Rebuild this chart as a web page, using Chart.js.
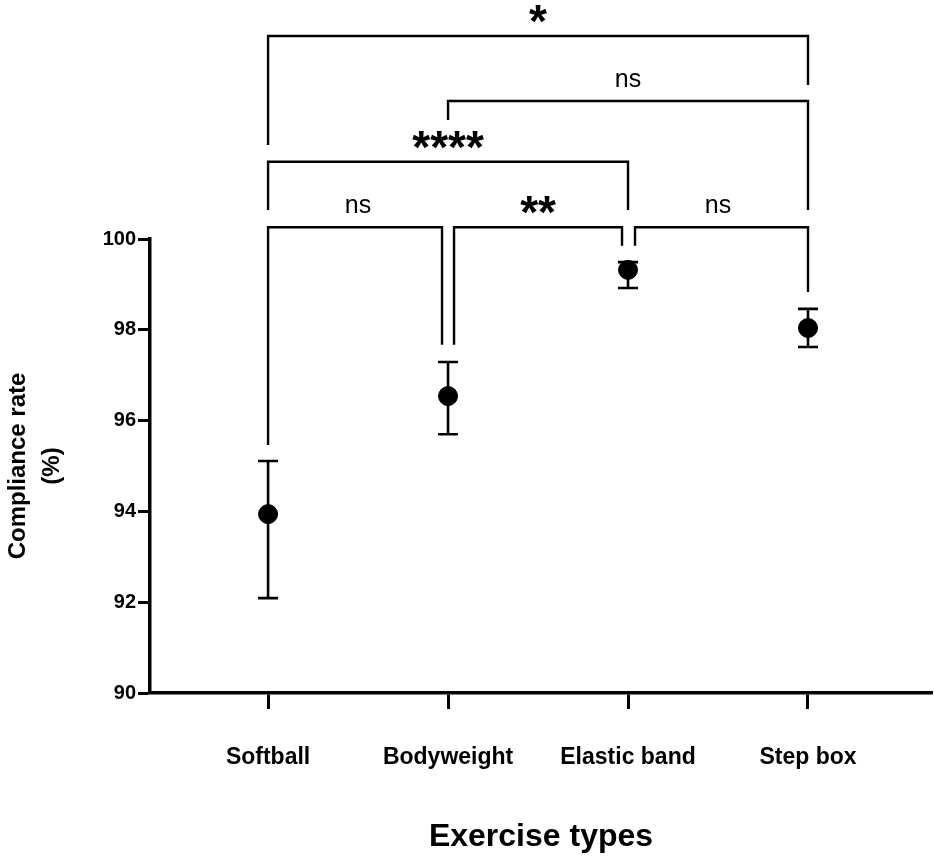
<!DOCTYPE html>
<html>
<head>
<meta charset="utf-8">
<title>Compliance rate by exercise type</title>
<script src="https://cdn.jsdelivr.net/npm/chart.js@4.4.1/dist/chart.umd.min.js"></script>
<style>
    html, body { margin: 0; padding: 0; background: #fff; }
    #grafica { display: block; }
</style>
</head>
<body>
<canvas id="grafica" width="935" height="860"></canvas>
<script>
// Data
const categories = ["Softball", "Bodyweight", "Elastic band", "Step box"];
const means = [93.94, 96.54, 99.32, 98.04];
const errHigh = [95.11, 97.29, 99.49, 98.46];
const errLow = [92.09, 95.70, 98.92, 97.62];
const yTicks = [90, 92, 94, 96, 98, 100];

// Multiple comparisons (category index pairs) and their labels
const sigPairs = [[0, 1], [1, 2], [2, 3], [0, 2], [1, 3], [0, 3]];
const sigLabels = ["ns", "**", "ns", "****", "ns", "*"];

// Bracket layout: [line level, left leg end, right leg end] in y units, then x shifts in px
const bracketLevels = [
    [100.26, 95.46, 97.67, 0, -6],
    [100.26, 97.67, 99.85, 6, -6],
    [100.26, 99.85, 98.83, 7, 0],
    [101.70, 100.64, 100.64, 0, 0],
    [103.04, 102.62, 100.64, 0, 0],
    [104.47, 102.07, 103.39, 0, 0],
];

const fontFam = "'Liberation Sans', Arial, Helvetica, sans-serif";

// error bars (mean +/- error), drawn under the dots
const errorBars = {
    id: "errorBars",
    beforeDatasetsDraw(chart) {
        const { ctx, scales: { x, y } } = chart;
        ctx.save();
        ctx.strokeStyle = "#000";
        ctx.lineWidth = 2.6;
        means.forEach((m, i) => {
            const px = x.getPixelForValue(i);
            const top = y.getPixelForValue(errHigh[i]);
            const bot = y.getPixelForValue(errLow[i]);
            ctx.beginPath();
            ctx.moveTo(px, top);
            ctx.lineTo(px, bot);
            ctx.moveTo(px - 10, top);
            ctx.lineTo(px + 10, top);
            ctx.moveTo(px - 10, bot);
            ctx.lineTo(px + 10, bot);
            ctx.stroke();
        });
        ctx.restore();
    }
};

// significance brackets above the points
const brackets = {
    id: "brackets",
    afterDraw(chart) {
        const { ctx, scales: { x, y } } = chart;
        ctx.save();
        ctx.strokeStyle = "#000";
        ctx.fillStyle = "#000";
        ctx.lineWidth = 2.4;
        ctx.lineJoin = "miter";
        ctx.textAlign = "center";
        ctx.textBaseline = "alphabetic";
        sigPairs.forEach(([a, b], k) => {
            const [lvl, endA, endB, dA, dB] = bracketLevels[k];
            const xa = x.getPixelForValue(a) + dA;
            const xb = x.getPixelForValue(b) + dB;
            const yl = y.getPixelForValue(lvl);
            ctx.beginPath();
            ctx.moveTo(xa, y.getPixelForValue(endA));
            ctx.lineTo(xa, yl);
            ctx.lineTo(xb, yl);
            ctx.lineTo(xb, y.getPixelForValue(endB));
            ctx.stroke();

            const cx = (x.getPixelForValue(a) + x.getPixelForValue(b)) / 2;
            const label = sigLabels[k];
            if (label === "ns") {
                ctx.font = "25px " + fontFam;
                ctx.fillText(label, cx, yl - 14);
            } else {
                ctx.font = "bold 46px " + fontFam;
                ctx.fillText(label, cx, yl - 24 + 0.55 * 46);
            }
        });
        ctx.restore();
    }
};

let ctxGraf = document.getElementById("grafica").getContext("2d");

let opciones = {
    type: "scatter",
    data: {
        datasets: [{
            label: "Compliance rate",
            data: means.map((v, i) => ({ x: i, y: v })),
            backgroundColor: "#000",
            borderColor: "#000",
            pointRadius: 9.5,
            pointHoverRadius: 9.5,
            clip: false
        }]
    },
    options: {
        responsive: false,
        animation: false,
        layout: {
            autoPadding: false,
            padding: { top: 239, right: 3, bottom: 0, left: 0 }
        },
        plugins: {
            legend: { display: false },
            tooltip: { enabled: false }
        },
        scales: {
            x: {
                type: "linear",
                min: -0.656,
                max: 3.689,
                afterBuildTicks: (scale) => {
                    scale.ticks = categories.map((c, i) => ({ value: i }));
                },
                afterFit: (scale) => { scale.height = 167; },
                grid: {
                    drawOnChartArea: false,
                    drawTicks: true,
                    tickLength: 16,
                    tickWidth: 3,
                    tickColor: "#000"
                },
                border: { display: true, color: "#000", width: 3.5 },
                ticks: {
                    color: "#000",
                    padding: 35,
                    maxRotation: 0,
                    font: { family: fontFam, size: 23, weight: "bold" },
                    callback: (value) => categories[value]
                },
                title: {
                    display: true,
                    text: "Exercise types",
                    color: "#000",
                    font: { family: fontFam, size: 32, weight: "bold", lineHeight: 1.2 },
                    padding: { top: 0, bottom: 4 }
                }
            },
            y: {
                min: 90,
                max: 100,
                afterBuildTicks: (scale) => {
                    scale.ticks = yTicks.map((v) => ({ value: v }));
                },
                afterFit: (scale) => { scale.width = 150; },
                grid: {
                    drawOnChartArea: false,
                    drawTicks: true,
                    tickLength: 12,
                    tickWidth: 3,
                    tickColor: "#000"
                },
                border: { display: true, color: "#000", width: 3.5 },
                ticks: {
                    color: "#000",
                    padding: 2,
                    font: { family: fontFam, size: 20, weight: "bold" }
                },
                title: {
                    display: true,
                    text: ["Compliance rate", "(%)"],
                    color: "#000",
                    font: { family: fontFam, size: 24, weight: "bold", lineHeight: 1.4 },
                    padding: { top: 2, bottom: 0 }
                }
            }
        }
    },
    plugins: [errorBars, brackets]
};

let grafica = new Chart(ctxGraf, opciones);
</script>
</body>
</html>
